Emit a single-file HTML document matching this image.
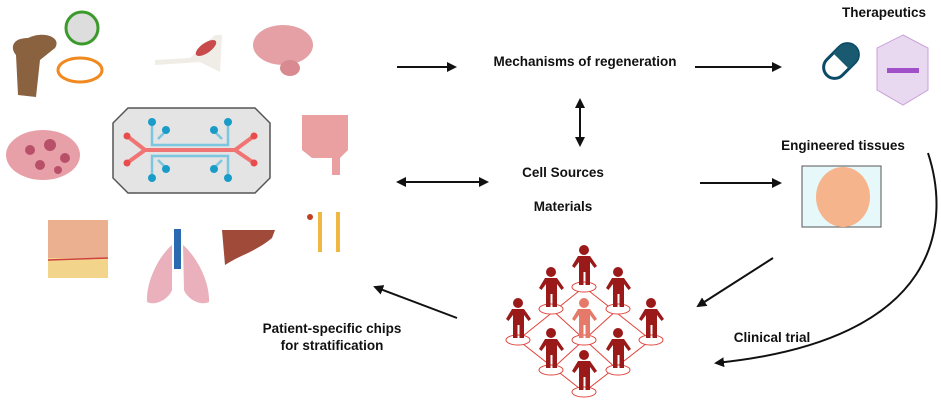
<!DOCTYPE html>
<html><head><meta charset="utf-8"><style>
body{margin:0;background:#fff;}
svg{display:block;}
text{font-family:"Liberation Sans",sans-serif;font-weight:bold;font-size:13.5px;fill:#111;}
</style></head><body>
<svg width="941" height="403" viewBox="0 0 941 403" xmlns="http://www.w3.org/2000/svg">
<defs>
<marker id="ah" markerWidth="10" markerHeight="10" refX="8" refY="5" orient="auto" markerUnits="userSpaceOnUse"><path d="M0,0 L10,5 L0,10 Z" fill="#111"/></marker>
<marker id="as" markerWidth="10" markerHeight="10" refX="2" refY="5" orient="auto" markerUnits="userSpaceOnUse"><path d="M10,0 L0,5 L10,10 Z" fill="#111"/></marker>
<g id="p"><ellipse cx="0" cy="37" rx="12" ry="5" fill="#fff" stroke="#e0443c" stroke-width="1"/><circle cx="0" cy="0" r="5"/><path d="M-6,6 h12 l7,10 -2.5,2 -4.5,-6 v23 h-4.5 v-13 h-2 v13 h-4.5 v-23 l-4.5,6 -2.5,-2z"/></g>
</defs>

<g stroke="#111" stroke-width="2" fill="none">
<line x1="397" y1="67" x2="455" y2="67" marker-end="url(#ah)"/>
<line x1="695" y1="67" x2="780" y2="67" marker-end="url(#ah)"/>
<line x1="580" y1="100" x2="580" y2="145" marker-end="url(#ah)" marker-start="url(#as)"/>
<line x1="398" y1="182" x2="487" y2="182" marker-end="url(#ah)" marker-start="url(#as)"/>
<line x1="700" y1="183" x2="780" y2="183" marker-end="url(#ah)"/>
<line x1="773" y1="258" x2="698" y2="306" marker-end="url(#ah)"/>
<line x1="457" y1="318" x2="375" y2="287" marker-end="url(#ah)"/>
<path d="M928,153 C950,220 945,340 716,363" marker-end="url(#ah)"/>
</g>

<text x="884" y="17" text-anchor="middle">Therapeutics</text>
<text x="585" y="66" text-anchor="middle">Mechanisms of regeneration</text>
<text x="843" y="150" text-anchor="middle">Engineered tissues</text>
<text x="563" y="177" text-anchor="middle">Cell Sources</text>
<text x="563" y="211" text-anchor="middle">Materials</text>
<text x="772" y="342" text-anchor="middle">Clinical trial</text>
<text x="332" y="333" text-anchor="middle">Patient-specific chips</text>
<text x="332" y="350" text-anchor="middle">for stratification</text>

<path d="M128,108 H255 L270,123 V178 L255,193 H128 L113,178 V123 Z" fill="#e4e4e4" stroke="#555" stroke-width="1.5"/>
<g stroke="#7cc6e0" stroke-width="2.5" fill="none"><path d="M152,122 V145 H228 V122 M166,131 L158,139 M214,131 L222,139 M152,178 V156 H228 V178 M166,168 L158,160 M214,168 L222,160"/></g>
<g stroke="#f07474" stroke-width="4" fill="none"><path d="M127,136 L145,150 H235 L254,136 M127,163 L145,150 M235,150 L254,163"/></g>
<g fill="#1a9cc8"><circle cx="152" cy="122" r="4"/><circle cx="166" cy="130" r="4"/><circle cx="214" cy="130" r="4"/><circle cx="228" cy="122" r="4"/><circle cx="152" cy="178" r="4"/><circle cx="166" cy="169" r="4"/><circle cx="214" cy="169" r="4"/><circle cx="228" cy="178" r="4"/></g>
<g fill="#e84c4c"><circle cx="127" cy="136" r="3.5"/><circle cx="127" cy="163" r="3.5"/><circle cx="254" cy="136" r="3.5"/><circle cx="254" cy="163" r="3.5"/></g>

<path d="M18,95 L16,55 C10,48 12,38 28,38 C45,30 62,38 55,48 L40,60 L36,97 Z" fill="#8a6240"/>
<circle cx="82" cy="28" r="16" fill="#ddd" stroke="#3a9a2a" stroke-width="3"/>
<ellipse cx="80" cy="70" rx="22" ry="12" fill="#fff" stroke="#f08a20" stroke-width="3"/>
<path d="M155,60 L190,58 L215,35 L222,35 L220,72 L200,62 L155,65 Z" fill="#f0ece6"/>
<ellipse cx="206" cy="48" rx="12" ry="5" fill="#c84a4a" transform="rotate(-35 206 48)"/>
<ellipse cx="283" cy="45" rx="30" ry="20" fill="#e4a0a4"/>
<ellipse cx="290" cy="68" rx="10" ry="8" fill="#d88a90"/>
<ellipse cx="43" cy="155" rx="37" ry="25" fill="#e8a0a8"/>
<g fill="#b8506a"><circle cx="30" cy="150" r="5"/><circle cx="50" cy="145" r="6"/><circle cx="65" cy="158" r="5"/><circle cx="40" cy="165" r="5"/><circle cx="58" cy="170" r="4"/></g>
<path d="M302,115 H348 V150 L340,158 V175 L332,175 V158 H312 L302,150 Z" fill="#eaa0a0"/>
<rect x="48" y="220" width="60" height="58" fill="#eab090"/>
<rect x="48" y="258" width="60" height="20" fill="#f2d48a"/>
<line x1="48" y1="260" x2="108" y2="258" stroke="#d04040" stroke-width="1.5"/>
<path d="M172,245 C160,255 146,280 147,302 C155,306 168,300 172,290 Z M183,245 C195,255 210,280 209,302 C201,306 188,300 184,290 Z" fill="#eab0bc"/>
<rect x="174" y="229" width="7" height="40" fill="#2a6ab0"/>
<path d="M222,230 H275 L272,238 C255,252 240,255 225,265 Z" fill="#a04a3a"/>
<rect x="318" y="212" width="4" height="40" fill="#f0b840"/>
<rect x="336" y="212" width="4" height="40" fill="#f0b840"/>
<circle cx="310" cy="217" r="3" fill="#c04020"/>

<g transform="rotate(-45 841 61)"><rect x="821" y="50" width="40" height="22" rx="11" fill="#fff" stroke="#0a4a66" stroke-width="3"/><path d="M841,50 H850 A11,11 0 0 1 850,72 H841 Z" fill="#1a5a70"/></g>
<polygon points="903,35 928,48 928,90 903,105 877,90 877,48" fill="#e8d8f0" stroke="#c8a0d8" stroke-width="1"/>
<rect x="887" y="68" width="32" height="5" fill="#a050c8"/>

<rect x="802" y="166" width="79" height="61" fill="#e6f8fa" stroke="#555" stroke-width="1"/>
<ellipse cx="843" cy="197" rx="27" ry="30" fill="#f6b48c"/>

<g stroke="#e0443c" stroke-width="1" fill="none"><path d="M584,287 L518,340 L584,392 L651,340 Z M551,309 L618,370 M618,309 L551,370"/></g>
<g fill="#9a1a1a">
<use href="#p" x="584" y="250"/><use href="#p" x="551" y="272"/><use href="#p" x="618" y="272"/>
<use href="#p" x="518" y="303"/><use href="#p" x="651" y="303"/>
<use href="#p" x="551" y="333"/><use href="#p" x="618" y="333"/><use href="#p" x="584" y="355"/>
</g>
<g fill="#e67a6a"><use href="#p" x="584" y="303"/></g>
</svg>
</body></html>
